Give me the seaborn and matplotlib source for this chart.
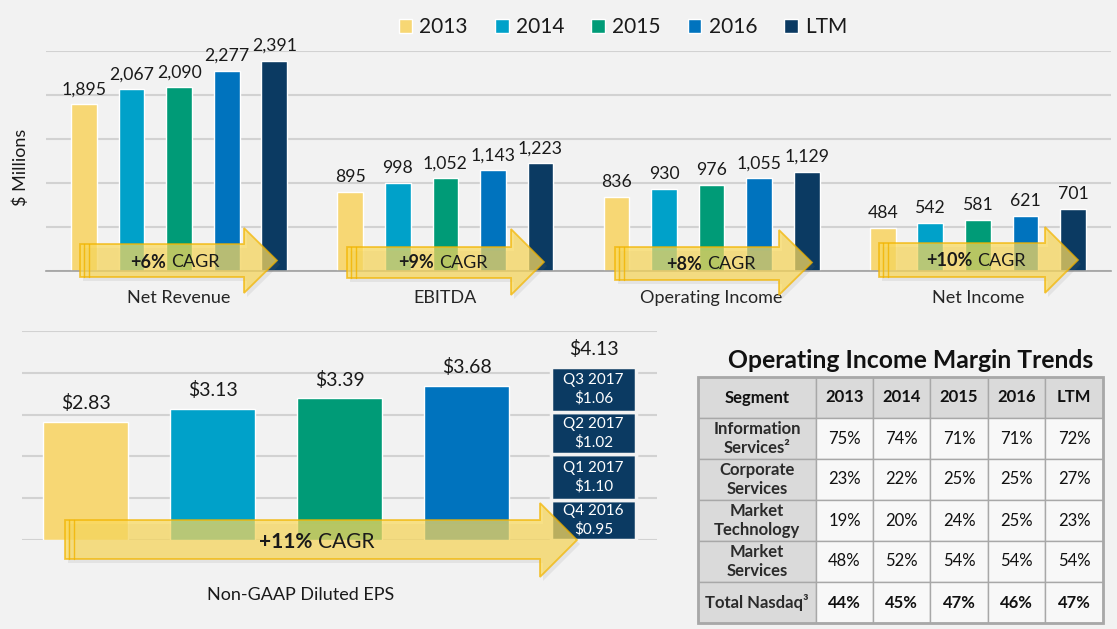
import numpy as np
import pandas as pd
import matplotlib
matplotlib.use("Agg")
import matplotlib.pyplot as plt
import seaborn as sns
from matplotlib.patches import Polygon, Rectangle, Patch

# ---------------- data ----------------
metrics = ["Net Revenue", "EBITDA", "Operating Income", "Net Income"]
years = ["2013", "2014", "2015", "2016", "LTM"]
net_revenue = [1895, 2067, 2090, 2277, 2391]
ebitda = [895, 998, 1052, 1143, 1223]
operating_income = [836, 930, 976, 1055, 1129]
net_income = [484, 542, 581, 621, 701]
cagr_labels = ["+6%", "+9%", "+8%", "+10%"]

eps_years = ["2013", "2014", "2015", "2016"]
eps_values = [2.83, 3.13, 3.39, 3.68]
ltm_quarters = ["Q4 2016", "Q1 2017", "Q2 2017", "Q3 2017"]
ltm_values = [0.95, 1.10, 1.02, 1.06]
ltm_total = 4.13
eps_cagr = "+11%"
eps_title = "Non-GAAP Diluted EPS"

table_title = "Operating Income Margin Trends"
table_columns = ["Segment", "2013", "2014", "2015", "2016", "LTM"]
segments = ["Information\nServices²", "Corporate\nServices", "Market\nTechnology",
            "Market\nServices", "Total Nasdaq³"]
info_services = ["75%", "74%", "71%", "71%", "72%"]
corporate_services = ["23%", "22%", "25%", "25%", "27%"]
market_technology = ["19%", "20%", "24%", "25%", "23%"]
market_services = ["48%", "52%", "54%", "54%", "54%"]
total_nasdaq = ["44%", "45%", "47%", "46%", "47%"]

# ---------------- style ----------------
palette = {"2013": "#f7d774", "2014": "#00a1c9", "2015": "#009b77",
           "2016": "#0073be", "LTM": "#0b3a62"}
BG = "#f2f2f2"
GRID = "#d2d2d2"
W, H = 1117, 629

sns.set_style("white")
plt.rcParams["font.family"] = ["Lato", "DejaVu Sans"]
plt.rcParams["text.color"] = "#1a1a1a"

fig = plt.figure(figsize=(W / 100, H / 100), dpi=100, facecolor=BG)


def fig_rect(l, t, r, b):
    return [l / W, 1 - b / H, (r - l) / W, (b - t) / H]


# ---------------- top grouped bar chart ----------------
ax = fig.add_axes(fig_rect(46, 51, 1111, 271))
ax.set_facecolor("none")
df = pd.DataFrame({
    "metric": np.repeat(metrics, len(years)),
    "year": years * len(metrics),
    "value": net_revenue + ebitda + operating_income + net_income,
})
sns.barplot(data=df, x="metric", y="value", hue="year", order=metrics,
            hue_order=years, palette=palette, width=0.893, gap=0.46,
            saturation=1, errorbar=None, legend=False, ax=ax)
for cont in ax.containers:
    ax.bar_label(cont, fmt="{:,.0f}", padding=5, fontsize=12.7, color="#1a1a1a")
ax.set_ylim(0, 2500)
ax.set_yticks(range(0, 2501, 500))
ax.set_yticklabels([])
ax.set_axisbelow(True)
ax.yaxis.grid(True, color=GRID, lw=1.5)
ax.xaxis.grid(False)
ax.set_xlim(-0.5, len(metrics) - 0.5)
for s in ["top", "right", "left"]:
    ax.spines[s].set_visible(False)
ax.spines["bottom"].set_color("#a0a0a0")
ax.spines["bottom"].set_linewidth(1.2)
ax.set_xticks(range(len(metrics)))
ax.set_xticklabels(metrics)
ax.tick_params(axis="x", which="major", length=0, pad=14, labelsize=13)
ax.tick_params(axis="y", length=0)
ax.set_xticks(np.arange(-0.5, len(metrics), 1), minor=True)
ax.tick_params(axis="x", which="minor", length=6, color="#a0a0a0", width=1.2)
ax.set_xlabel("")
ax.set_ylabel("")

handles = [Patch(facecolor=palette[y]) for y in years]
fig.legend(handles, years, loc="center", bbox_to_anchor=(623 / W, 1 - 27 / H),
           ncol=5, frameon=False, fontsize=15, handlelength=0.65,
           handleheight=0.65, handletextpad=0.35, columnspacing=1.3,
           borderpad=0)
fig.text(21 / W, 1 - 167 / H, "$ Millions", rotation=90, ha="center",
         va="center", fontsize=13)

# ---------------- EPS chart ----------------
eax = fig.add_axes(fig_rect(22, 331, 657, 540))
eax.set_facecolor("none")
eps_df = pd.DataFrame({"year": eps_years, "eps": eps_values})
sns.barplot(data=eps_df, x="year", y="eps", hue="year",
            order=eps_years + ["LTM"], hue_order=eps_years,
            palette={k: palette[k] for k in eps_years}, width=0.67,
            saturation=1, errorbar=None, legend=False, ax=eax)
for cont, v in zip(list(eax.containers), eps_values):
    eax.bar_label(cont, labels=[f"${v:.2f}"], padding=7, fontsize=14,
                  color="#1a1a1a")
bottoms = np.concatenate([[0], np.cumsum(ltm_values)[:-1]])
ltm_x = len(eps_years)
eax.bar([ltm_x] * len(ltm_values), ltm_values, bottom=bottoms, width=0.67,
        color=palette["LTM"], edgecolor=BG, linewidth=2.5)
for q, v, b in zip(ltm_quarters, ltm_values, bottoms):
    eax.text(ltm_x, b + v / 2, f"{q}\n${v:.2f}", color="white", ha="center",
             va="center", fontsize=11, linespacing=1.35)
eax.annotate(f"${ltm_total:.2f}", xy=(ltm_x, sum(ltm_values)),
             xytext=(0, 7), textcoords="offset points", ha="center",
             va="bottom", fontsize=14, color="#1a1a1a")
eax.set_ylim(0, 5)
eax.set_yticks(range(0, 6))
eax.set_xlim(-0.5, ltm_x + 0.5)
eax.set_axisbelow(True)
eax.yaxis.grid(True, color=GRID, lw=1.5)
eax.xaxis.grid(False)
for s in eax.spines.values():
    s.set_visible(False)
eax.set_xticks([])
eax.set_yticklabels([])
eax.tick_params(length=0)
eax.set_xlabel("")
eax.set_ylabel("")
fig.text(301 / W, 1 - 595 / H, eps_title, ha="center", va="center", fontsize=13)

# ---------------- table ----------------
tax = fig.add_axes(fig_rect(698, 377, 1103, 623))
tax.axis("off")
rows = [info_services, corporate_services, market_technology, market_services,
        total_nasdaq]
cell_text = [[seg] + vals for seg, vals in zip(segments, rows)]
col_w = np.array([118, 57, 57, 58, 57, 58], dtype=float)
tbl = tax.table(cellText=cell_text, colLabels=table_columns, cellLoc="center",
                colWidths=list(col_w / col_w.sum()), bbox=[0, 0, 1, 1])
tbl.auto_set_font_size(False)
nrows = len(cell_text)
for (r, c), cell in tbl.get_celld().items():
    cell.set_edgecolor("#a8a8a8")
    cell.set_linewidth(1.0)
    header = (r == 0) or (c == 0)
    cell.set_facecolor("#dadada" if header else "#f8f8f8")
    t = cell.get_text()
    t.set_fontsize(12)
    t.set_linespacing(1.2)
    if header or r == nrows:
        t.set_fontweight("bold")
    t.set_color("#2b2b2b" if c == 0 and r > 0 else "#111111")
tax.add_patch(Rectangle((0, 0), 1, 1, transform=tax.transAxes, fill=False,
                        ec="#a8a8a8", lw=2, clip_on=False, zorder=10))
fig.text(911 / W, 1 - 360 / H, table_title, ha="center", va="center",
         fontsize=17.8, fontweight="bold", color="#111111")

# ---------------- CAGR arrows (overlay, pixel coords) ----------------
ov = fig.add_axes([0, 0, 1, 1])
ov.set_xlim(0, W)
ov.set_ylim(H, 0)
ov.axis("off")
ov.set_zorder(5)

arrow_specs = [
    # left, tip, body_top, body_bot, head_base, head_top, head_bot, text_x, text_y, size
    (80, 277, 244, 277, 244, 228, 293, 175, 262, 13),
    (347, 544, 247, 278, 511, 229, 295, 443, 263, 13),
    (615, 812, 247, 280, 779, 230, 295, 711, 264, 13),
    (879, 1078, 243, 277, 1045, 227, 293, 976, 261, 13),
    (65, 577, 520, 559, 540, 503, 577, 317, 542, 15),
]
arrow_texts = cagr_labels + [eps_cagr]


def arrow_poly(l, tip, bt, bb, hb, ht, hbt, dx=0, dy=0):
    ym = (ht + hbt) / 2
    pts = [(l, bt), (hb, bt), (hb, ht), (tip, ym), (hb, hbt), (hb, bb), (l, bb)]
    return [(x + dx, y + dy) for x, y in pts]


fig.canvas.draw()
renderer = fig.canvas.get_renderer()
for spec, lab in zip(arrow_specs, arrow_texts):
    l, tip, bt, bb, hb, ht, hbt, tx, ty, fs = spec
    ov.add_patch(Polygon(arrow_poly(l, tip, bt, bb, hb, ht, hbt, 3, 4),
                         closed=True, fc="#7a7a7a", ec="none", alpha=0.12,
                         zorder=1))
    ov.add_patch(Polygon(arrow_poly(l, tip, bt, bb, hb, ht, hbt), closed=True,
                         fc="#fad95c", ec="#f2b400", lw=1.3, alpha=0.72,
                         zorder=2))
    for off in (4, 9):
        ov.plot([l + off, l + off], [bt, bb], color="#f2b400", lw=1.0,
                alpha=0.8, zorder=3)
    t1 = ov.text(0, ty, lab, fontsize=fs, fontweight="bold", ha="left",
                 va="center", color="#1a1a1a", zorder=4)
    t2 = ov.text(0, ty, "CAGR", fontsize=fs, ha="left", va="center",
                 color="#1a1a1a", zorder=4)
    w1 = t1.get_window_extent(renderer).width
    w2 = t2.get_window_extent(renderer).width
    gap = fs * 100 / 72 * 0.25
    x0 = tx - (w1 + gap + w2) / 2
    t1.set_x(x0)
    t2.set_x(x0 + w1 + gap)

fig.savefig("out.png", dpi=100, facecolor=BG)
